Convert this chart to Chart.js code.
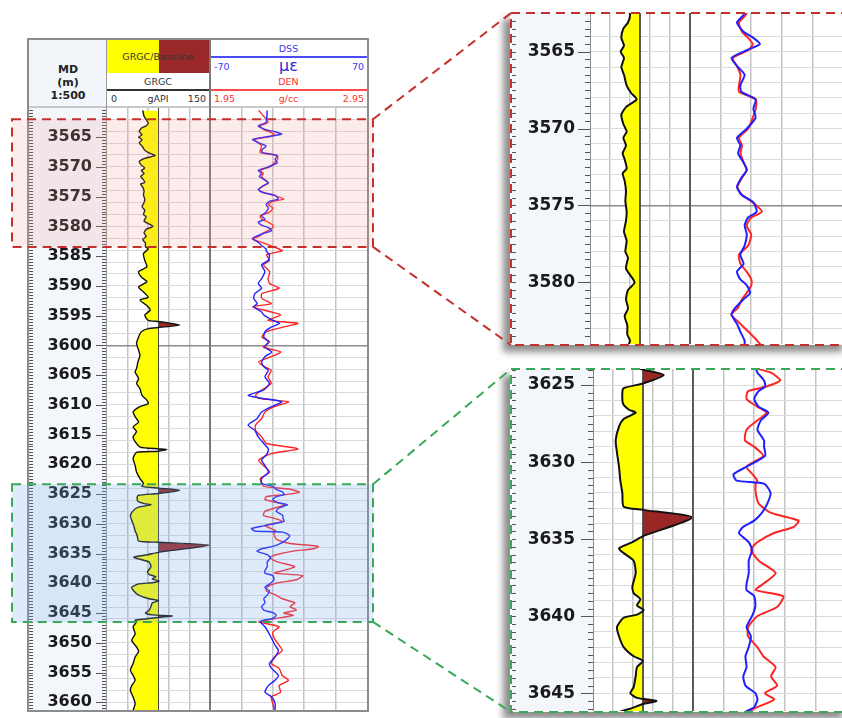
<!DOCTYPE html>
<html>
<head>
<meta charset="utf-8">
<script src="https://cdn.jsdelivr.net/npm/chart.js@4.4.1/dist/chart.umd.min.js"></script>
<style>
  html, body { margin: 0; padding: 0; background: #fff; }
  body { width: 842px; height: 718px; overflow: hidden; position: relative; font-family: 'DejaVu Sans', sans-serif; }
  .a { position: absolute; }
  canvas { position: absolute; z-index: 2; }
  .t { position: absolute; font-size: 9.5px; line-height: 12px; color: #333; white-space: nowrap; z-index: 3; }
  .c { text-align: center; }
  .r { text-align: right; }
  .ln { position: absolute; z-index: 3; }
</style>
</head>
<body>

<!-- main log: header -->
<div class="a" style="left:27px;top:38px;width:342px;height:674px;background:#fff;"></div>
<div class="a" style="left:29px;top:40px;width:78px;height:67px;background:#f2f6fb;z-index:1"></div>
<div class="t c" style="left:29px;top:63px;width:78px;font:bold 11px 'DejaVu Sans';line-height:13px;color:#222">MD<br>(m)<br>1:500</div>

<div class="a" style="left:107px;top:40px;width:52px;height:33px;background:#ffff00;z-index:1"></div>
<div class="a" style="left:159px;top:40px;width:50px;height:33px;background:#9b2828;z-index:1"></div>
<div class="t c" style="left:107px;top:51px;width:102px">GRGC/Baseline</div>
<div class="t c" style="left:107px;top:76px;width:102px">GRGC</div>
<div class="ln" style="left:107px;top:89px;width:102px;height:2px;background:#333"></div>
<div class="t" style="left:111px;top:93px">0</div>
<div class="t c" style="left:107px;top:93px;width:102px">gAPI</div>
<div class="t r" style="left:170px;top:93px;width:36px">150</div>

<div class="t c" style="left:210px;top:43px;width:157px;color:#3a3af0">DSS</div>
<div class="ln" style="left:210px;top:56px;width:157px;height:2px;background:#4b4bf5"></div>
<div class="t" style="left:214px;top:61px;color:#3a3af0">-70</div>
<div class="t c" style="left:210px;top:58px;width:157px;font-size:16px;line-height:16px;color:#2d2dd8">με</div>
<div class="t r" style="left:330px;top:61px;width:34px;color:#3a3af0">70</div>
<div class="t c" style="left:210px;top:76px;width:157px;color:#ff3030">DEN</div>
<div class="ln" style="left:210px;top:89px;width:157px;height:2px;background:#ff4a4a"></div>
<div class="t" style="left:214px;top:93px;color:#ff3030">1.95</div>
<div class="t c" style="left:210px;top:93px;width:157px;color:#ff3030">g/cc</div>
<div class="t r" style="left:330px;top:93px;width:34px;color:#ff3030">2.95</div>

<!-- main log: tracks -->
<canvas id="mainGr" width="181" height="602" style="left:29px;top:108px"></canvas>
<canvas id="mainDss" width="157" height="602" style="left:210px;top:108px"></canvas>
<div class="ln" style="left:29px;top:106px;width:338px;height:2px;background:#c8c8c8"></div>
<div class="ln" style="left:106px;top:40px;width:1px;height:670px;background:#9a9a9a"></div>
<div class="ln" style="left:209px;top:40px;width:2px;height:670px;background:#7a7a7a"></div>
<div class="a" style="left:27px;top:38px;width:342px;height:674px;border:2px solid #8c8c8c;box-sizing:border-box;z-index:3"></div>

<!-- insets -->
<div class="a" style="left:510px;top:12px;width:340px;height:333px;background:#fff;box-shadow:-7px 7px 7px rgba(0,0,0,0.45);z-index:1"></div>
<canvas id="topGr" width="178" height="331" style="left:512px;top:13px"></canvas>
<canvas id="topDss" width="153" height="331" style="left:690px;top:13px"></canvas>
<div class="ln" style="left:590px;top:13px;width:1px;height:331px;background:#8a8a8a"></div>
<div class="ln" style="left:689px;top:13px;width:2px;height:331px;background:#5a5a5a"></div>

<div class="a" style="left:510px;top:368px;width:340px;height:344px;background:#fff;box-shadow:-7px 7px 7px rgba(0,0,0,0.45);z-index:1"></div>
<canvas id="botGr" width="181" height="342" style="left:512px;top:369px"></canvas>
<canvas id="botDss" width="153" height="342" style="left:693px;top:369px"></canvas>
<div class="ln" style="left:593px;top:369px;width:1px;height:342px;background:#8a8a8a"></div>
<div class="ln" style="left:692px;top:369px;width:2px;height:342px;background:#5a5a5a"></div>

<canvas id="overlay" width="842" height="718" style="left:0;top:0;z-index:5;pointer-events:none"></canvas>

<script>
// GR curve, gAPI
const GR_DEPTH = [3560.5, 3561.5, 3562.6, 3563.1, 3563.5, 3564.1, 3564.6, 3565.0, 3565.4, 3566.0,
  3566.5, 3567.2, 3567.7, 3568.1, 3568.6, 3569.1, 3569.7, 3570.2, 3570.6, 3571.1,
  3571.6, 3572.0, 3572.6, 3572.9, 3573.4, 3574.1, 3574.7, 3575.4, 3576.0, 3576.7,
  3577.3, 3578.0, 3578.4, 3579.1, 3580.0, 3580.5, 3581.1, 3581.7, 3582.2, 3582.8,
  3583.4, 3583.8, 3584.6, 3585.7, 3586.8, 3587.6, 3588.5, 3589.3, 3590.2, 3591.0,
  3591.9, 3592.4, 3593.3, 3594.1, 3594.9, 3595.8, 3596.0, 3596.6, 3597.0, 3597.2,
  3597.7, 3598.6, 3599.7, 3600.8, 3601.7, 3602.8, 3603.9, 3604.5, 3605.6, 3606.4,
  3607.3, 3608.4, 3609.2, 3609.8, 3610.3, 3611.2, 3612.0, 3612.9, 3613.7, 3614.5,
  3615.4, 3616.2, 3617.1, 3617.4, 3617.5, 3617.8, 3618.0, 3619.0, 3620.2, 3621.3,
  3622.4, 3623.2, 3623.7, 3624.0, 3624.35, 3624.9, 3625.2, 3625.5, 3626.2, 3626.6,
  3626.8, 3627.2, 3627.7, 3628.6, 3629.4, 3630.3, 3631.2, 3632.0, 3632.9, 3633.1,
  3633.6, 3634.8, 3635.2, 3635.6, 3635.9, 3636.4, 3637.2, 3638.1, 3638.5, 3638.9,
  3639.3, 3639.6, 3639.9, 3640.1, 3640.7, 3641.3, 3642.0, 3642.6, 3642.9, 3643.3,
  3643.9, 3644.6, 3645.0, 3645.3, 3645.5, 3645.7, 3646.0, 3646.2, 3646.5, 3647.3,
  3648.5, 3649.6, 3650.7, 3651.5, 3652.4, 3653.5, 3654.6, 3655.5, 3656.3, 3657.2,
  3658.0, 3659.1, 3660.2, 3661.4];
const GR_VALUES = [52, 54, 60, 57, 50, 47, 51, 46, 51, 47,
  51, 55, 62, 70, 54, 47, 50, 55, 50, 54,
  49, 52, 55, 49, 52, 54, 53, 55, 54, 51,
  55, 53, 57, 54, 67, 57, 54, 57, 52, 56,
  56, 60, 53, 55, 58, 46, 50, 58, 46, 53,
  60, 48, 58, 63, 55, 60, 75, 106, 75, 60,
  50, 46, 43, 46, 48, 45, 43, 41, 46, 43,
  48, 51, 58, 60, 48, 38, 41, 46, 38, 43,
  38, 41, 48, 75, 87, 75, 43, 38, 41, 43,
  48, 53, 51, 75, 106, 75, 46, 44, 45, 54,
  64, 46, 39, 34, 36, 39, 41, 44, 46, 75,
  149, 75, 59, 39, 46, 61, 64, 59, 61, 71,
  66, 76, 66, 46, 36, 39, 46, 61, 75, 66,
  64, 61, 56, 66, 95, 75, 56, 41, 43, 38,
  41, 36, 43, 46, 41, 38, 34, 38, 41, 36,
  34, 38, 41, 38];

// DSS (microstrain) and DEN (g/cc) share the same depth samples
const LOG_DEPTH = [3560.5, 3562.5, 3563.1, 3563.7, 3564.1, 3564.5, 3564.9, 3565.4, 3566.0, 3566.5,
  3567.2, 3567.6, 3568.1, 3568.7, 3569.3, 3570.0, 3570.6, 3571.1, 3571.6, 3572.2,
  3572.7, 3573.2, 3573.8, 3574.3, 3574.8, 3575.4, 3575.8, 3576.3, 3576.9, 3577.6,
  3578.2, 3578.8, 3579.3, 3579.8, 3580.2, 3580.7, 3581.1, 3581.7, 3582.1, 3582.7,
  3583.2, 3583.8, 3584.1, 3584.8, 3585.7, 3586.5, 3587.6, 3588.8, 3589.6, 3590.4,
  3591.3, 3592.1, 3593.0, 3593.5, 3594.4, 3594.9, 3595.8, 3596.3, 3596.9, 3597.7,
  3598.6, 3599.4, 3600.3, 3601.1, 3601.9, 3602.8, 3603.6, 3604.2, 3605.3, 3606.4,
  3607.5, 3608.4, 3608.9, 3609.5, 3610.3, 3611.2, 3612.3, 3613.4, 3614.3, 3615.4,
  3616.5, 3617.4, 3618.2, 3619.3, 3620.2, 3621.3, 3622.4, 3623.2, 3623.7, 3624.2,
  3624.7, 3625.1, 3625.4, 3625.9, 3626.4, 3626.8, 3627.3, 3627.9, 3628.6, 3629.0,
  3629.6, 3630.3, 3630.8, 3631.2, 3631.4, 3632.0, 3632.7, 3633.3, 3633.8, 3634.2,
  3634.6, 3635.2, 3635.7, 3636.4, 3637.2, 3637.9, 3638.3, 3638.7, 3639.4, 3640.0,
  3640.7, 3641.3, 3642.0, 3642.6, 3643.3, 3643.9, 3644.5, 3645.0, 3645.4, 3645.9,
  3646.2, 3646.5, 3647.3, 3648.2, 3649.3, 3650.4, 3651.3, 3652.4, 3653.5, 3654.3,
  3655.5, 3656.3, 3657.2, 3658.3, 3659.1, 3660.2, 3661.4];
const DSS_VALUES = [-19, -20, -27, -21, -12, -6, -18, -32, -26, -20,
  -24, -23, -10, -12, -10, -18, -27, -24, -26, -21,
  -18, -23, -27, -23, -12, -9, -17, -20, -18, -20,
  -24, -21, -27, -24, -18, -15, -21, -29, -32, -27,
  -24, -20, -20, -17, -18, -24, -21, -24, -27, -24,
  -30, -31, -28, -31, -24, -22, -14, -8, -15, -21,
  -22, -18, -21, -15, -21, -24, -22, -18, -21, -17,
  -22, -36, -24, -6, -15, -24, -28, -36, -30, -27,
  -22, -18, -19, -24, -21, -18, -24, -24, -14, -11,
  -5, -4, -10, -14, -10, -1, -8, -11, -5, -5,
  -4, -21, -33, -30, -5, 1, -2, -7, -14, -24,
  -28, -19, -16, -19, -19, -21, -21, -14, -13, -16,
  -21, -17, -19, -22, -21, -24, -22, -13, -11, -14,
  -22, -25, -21, -18, -15, -12, -9, -12, -17, -15,
  -9, -12, -18, -21, -15, -12, -12];
const DEN_VALUES = [2.26, 2.32, 2.27, 2.29, 2.33, 2.36, 2.33, 2.23, 2.26, 2.28,
  2.27, 2.27, 2.38, 2.38, 2.36, 2.33, 2.27, 2.29, 2.28, 2.30,
  2.32, 2.29, 2.26, 2.29, 2.36, 2.42, 2.35, 2.32, 2.35, 2.33,
  2.27, 2.28, 2.32, 2.35, 2.35, 2.32, 2.29, 2.26, 2.22, 2.28,
  2.33, 2.39, 2.41, 2.31, 2.33, 2.29, 2.33, 2.32, 2.33, 2.39,
  2.28, 2.28, 2.34, 2.22, 2.34, 2.40, 2.32, 2.51, 2.42, 2.31,
  2.28, 2.33, 2.29, 2.40, 2.34, 2.26, 2.30, 2.34, 2.32, 2.34,
  2.28, 2.24, 2.26, 2.45, 2.36, 2.30, 2.28, 2.24, 2.24, 2.28,
  2.31, 2.51, 2.34, 2.26, 2.29, 2.33, 2.27, 2.28, 2.29, 2.46,
  2.52, 2.43, 2.31, 2.30, 2.37, 2.43, 2.37, 2.30, 2.29, 2.35,
  2.41, 2.30, 2.34, 2.37, 2.36, 2.36, 2.38, 2.46, 2.64, 2.61,
  2.48, 2.37, 2.33, 2.38, 2.49, 2.41, 2.36, 2.54, 2.50, 2.37,
  2.31, 2.31, 2.37, 2.41, 2.49, 2.46, 2.50, 2.42, 2.48, 2.37,
  2.31, 2.26, 2.39, 2.35, 2.36, 2.39, 2.41, 2.36, 2.34, 2.39,
  2.41, 2.45, 2.39, 2.40, 2.34, 2.35, 2.36];

const GR_RANGE = [0, 150];
const DSS_RANGE = [-70, 70];
const DEN_RANGE = [1.95, 2.95];
const BASELINE = 75;

// depth windows shown by each view, and the zoomed intervals marked on the main log
const MAIN_DEPTHS = [3560.1, 3661.3];
const TOP_DEPTHS = [3562.48, 3584.01];
const BOTTOM_DEPTHS = [3623.96, 3646.15];
const TOP_MARK = [3562.0, 3583.45];
const BOTTOM_MARK = [3623.35, 3646.5];

// depth column: light background plus ruler ticks every half metre
const depthColumn = {
  id: 'depthColumn',
  beforeDraw(chart, args, o) {
    const { ctx, chartArea: a } = chart;
    ctx.save();
    ctx.fillStyle = '#f3f7fc';
    ctx.fillRect(0, a.top, a.left, a.bottom - a.top);
    ctx.restore();
  },
  afterDraw(chart, args, o) {
    const { ctx, chartArea: a, scales: { y } } = chart;
    ctx.save();
    ctx.strokeStyle = '#555';
    ctx.lineWidth = 1;
    ctx.beginPath();
    for (let d = Math.ceil(y.min * 2) / 2; d <= y.max; d += 0.5) {
      const py = Math.round(y.getPixelForValue(d)) + 0.5;
      const major = d % 5 === 0;
      ctx.moveTo(a.left - (major ? o.major : o.minor), py);
      ctx.lineTo(a.left, py);
      ctx.moveTo(0, py);
      ctx.lineTo(o.left, py);
    }
    ctx.stroke();
    ctx.restore();
  }
};

function depthScale(range, o) {
  return {
    type: 'linear', reverse: true, min: range[0], max: range[1],
    afterFit: s => { s.width = o.axisWidth; s.paddingTop = 0; s.paddingBottom = 0; },
    border: { display: false },
    grid: {
      drawTicks: false,
      color: c => {
        const v = c.tick.value;
        if (!Number.isInteger(v)) return 'rgba(0,0,0,0)';
        if (o.dark.includes(v)) return '#8c8c8c';
        return v % o.every === 0 ? '#dadada' : 'rgba(0,0,0,0)';
      },
      lineWidth: c => (o.dark.includes(c.tick.value) ? 1.5 : 1)
    },
    ticks: {
      display: o.labels, stepSize: 1, autoSkip: false, maxTicksLimit: 1000,
      padding: o.pad, color: '#1a1a1a',
      font: { family: 'DejaVu Sans', weight: 'bold', size: o.fontSize },
      callback: v => (v % 5 === 0 ? String(v) : '')
    }
  };
}

function trackScale(range, step) {
  return {
    type: 'linear', min: range[0], max: range[1],
    afterFit: s => { s.height = 0; s.paddingLeft = 0; s.paddingRight = 0; },
    border: { display: false },
    ticks: { display: false, stepSize: step },
    grid: {
      drawTicks: false,
      color: c => (c.tick.value === range[0] || c.tick.value === range[1]) ? 'rgba(0,0,0,0)' : '#c4c4c4',
      lineWidth: 1.5
    }
  };
}

function baseOptions() {
  return {
    indexAxis: 'y', responsive: false, animation: false,
    layout: { padding: 0 },
    elements: { point: { radius: 0 }, line: { tension: 0.2 } },
    plugins: { legend: { display: false }, tooltip: { enabled: false } }
  };
}

function makeGr(id, range, o) {
  const pts = GR_DEPTH.map((d, i) => ({ x: GR_VALUES[i], y: d }));
  const opts = baseOptions();
  opts.plugins.depthColumn = o.ticks;
  opts.scales = { x: trackScale(GR_RANGE, 30), y: depthScale(range, o) };
  return new Chart(document.getElementById(id), {
    type: 'line',
    data: {
      datasets: [
        { data: pts, borderColor: '#111', borderWidth: o.lw, order: 0 },
        { data: [{ x: BASELINE, y: range[0] }, { x: BASELINE, y: range[1] }], borderColor: '#444', borderWidth: 1, tension: 0, order: 1 },
        { data: pts.map(p => ({ x: Math.max(p.x, BASELINE), y: p.y })), borderColor: 'rgba(0,0,0,0)', borderWidth: 0,
          backgroundColor: '#9b2626', fill: { value: BASELINE }, order: 2 },
        { data: pts.map(p => ({ x: Math.min(p.x, BASELINE), y: p.y })), borderColor: 'rgba(0,0,0,0)', borderWidth: 0,
          backgroundColor: '#ffff00', fill: { value: BASELINE }, order: 3 }
      ]
    },
    options: opts,
    plugins: [depthColumn]
  });
}

function makeDss(id, range, o) {
  const opts = baseOptions();
  opts.scales = {
    x: trackScale(DSS_RANGE, 28),
    xDen: { axis: 'x', type: 'linear', min: DEN_RANGE[0], max: DEN_RANGE[1], display: false },
    y: depthScale(range, Object.assign({}, o, { axisWidth: 0, labels: false }))
  };
  return new Chart(document.getElementById(id), {
    type: 'line',
    data: {
      datasets: [
        { data: LOG_DEPTH.map((d, i) => ({ x: DSS_VALUES[i], y: d })), xAxisID: 'x', borderColor: '#1f1fff', borderWidth: o.lw, order: 0 },
        { data: LOG_DEPTH.map((d, i) => ({ x: DEN_VALUES[i], y: d })), xAxisID: 'xDen', borderColor: '#ff2424', borderWidth: o.lw, order: 1 }
      ]
    },
    options: opts
  });
}

const mainCfg = { axisWidth: 78, labels: true, pad: 15, fontSize: 16, lw: 1.4, every: 2, dark: [3600],
  ticks: { major: 11, minor: 5, left: 4 } };
const topCfg = { axisWidth: 78, labels: true, pad: 15, fontSize: 17, lw: 2, every: 1, dark: [3575],
  ticks: { major: 12, minor: 5, left: 4 } };
const botCfg = { axisWidth: 81, labels: true, pad: 18, fontSize: 17, lw: 2, every: 1, dark: [],
  ticks: { major: 12, minor: 5, left: 4 } };

const mainGr = makeGr('mainGr', MAIN_DEPTHS, mainCfg);
makeDss('mainDss', MAIN_DEPTHS, mainCfg);
makeGr('topGr', TOP_DEPTHS, topCfg);
makeDss('topDss', TOP_DEPTHS, topCfg);
makeGr('botGr', BOTTOM_DEPTHS, botCfg);
makeDss('botDss', BOTTOM_DEPTHS, botCfg);

// highlighted intervals on the main log and the dashed call-outs to the insets
const ov = document.getElementById('overlay').getContext('2d');
const canvasTop = mainGr.canvas.getBoundingClientRect().top;
function depthY(d) { return canvasTop + mainGr.scales.y.getPixelForValue(d); }

function callout(mark, inset, fill, stroke) {
  const y0 = depthY(mark[0]);
  const y1 = depthY(mark[1]);
  ov.fillStyle = fill;
  ov.fillRect(12, y0, 361, y1 - y0);
  ov.strokeStyle = stroke;
  ov.lineWidth = 2;
  ov.setLineDash([9, 6]);
  ov.strokeRect(12, y0, 361, y1 - y0);
  ov.beginPath();
  ov.moveTo(373, y0); ov.lineTo(inset.left, inset.top);
  ov.moveTo(373, y1); ov.lineTo(inset.left, inset.bottom);
  ov.stroke();
  ov.beginPath();
  ov.moveTo(850, inset.top); ov.lineTo(inset.left, inset.top);
  ov.lineTo(inset.left, inset.bottom); ov.lineTo(850, inset.bottom);
  ov.stroke();
}
callout(TOP_MARK, { left: 511, top: 13, bottom: 345 }, 'rgba(240,150,150,0.18)', '#c4302c');
callout(BOTTOM_MARK, { left: 511, top: 369, bottom: 712 }, 'rgba(120,170,235,0.24)', '#3aa85a');
</script>
</body>
</html>
